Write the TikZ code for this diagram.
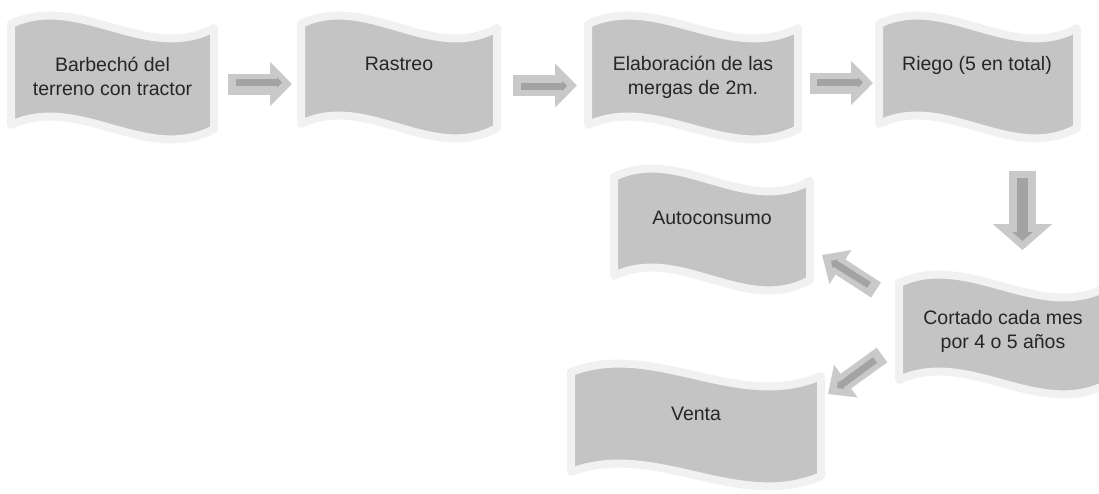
\documentclass[tikz,border=0pt]{standalone}
\usepackage{fontspec}
\setmainfont{Liberation Sans}
\usetikzlibrary{arrows.meta}
\definecolor{shapefill}{RGB}{196,196,196}
\definecolor{shapeedge}{RGB}{241,241,241}
\definecolor{arrowlight}{RGB}{201,201,201}
\definecolor{arrowdark}{RGB}{163,163,163}
\definecolor{textcol}{RGB}{38,38,38}
\tikzset{
  waveshape/.style={fill=shapefill, draw=shapeedge, line width=8pt, line join=round},
  wavetext/.style={anchor=base, align=center, text=textcol, inner sep=0pt,
    font=\fontsize{19.5}{23.3}\selectfont},
  bigarrow/.style={draw=arrowlight, line width=21pt, -{Triangle[width=43pt,length=22pt]}},
  bigarrowdiag/.style={draw=arrowlight, line width=18pt, -{Triangle[width=39pt,length=22pt]}},
  downarrow/.style={draw=arrowlight, line width=27pt, -{Triangle[width=58pt,length=26pt]}},
  smallarrow/.style={draw=arrowdark, line width=7pt, -{Triangle[width=10pt,length=5pt]}},
  smallarrowdown/.style={draw=arrowdark, line width=11pt, -{Triangle[width=20pt,length=9pt]}},
}
% #1 left, #2 top (left end of edge), #3 width, #4 height  (fill coordinates, image pixels)
\newcommand\wavepath[4]{%
  \path[waveshape] ({#1-4},{-(#2-4)})
    .. controls ({#1-4+(#3+8)/3},{-(#2-4-32)}) and ({#1-4+2*(#3+8)/3},{-(#2-4+40)}) .. ({#1+#3+4},{-(#2-4+4)})
    -- ({#1+#3+4},{-(#2+#4+4+4)})
    .. controls ({#1-4+2*(#3+8)/3},{-(#2+#4+4+40)}) and ({#1-4+(#3+8)/3},{-(#2+#4+4-32)}) .. ({#1-4},{-(#2+#4+4)})
    -- cycle;}
\begin{document}
\begin{tikzpicture}[x=1pt,y=1pt]
\useasboundingbox (0,0) rectangle (1099,-493);
% shapes
\wavepath{15}{28}{195}{93}
\wavepath{305}{28}{188}{92}
\wavepath{592}{28}{202}{93}
\wavepath{883}{28}{190}{92}
\wavepath{618}{181}{188}{91}
\wavepath{903}{287}{200}{89}
\wavepath{575}{376}{242}{92}
% texts
\node[wavetext] (b1) at (112.5,-95) {Barbechó del\\terreno con tractor};
\node[wavetext] (b2) at (399,-70) {Rastreo};
\node[wavetext] (b3) at (693,-94) {Elaboración de las\\mergas de 2m.};
\node[wavetext] (b4) at (977,-70) {Riego (5 en total)};
\node[wavetext] (b5) at (712,-224) {Autoconsumo};
\node[wavetext] (b6) at (1003,-348) {Cortado cada mes\\por 4 o 5 años};
\node[wavetext] (b7) at (696,-420) {Venta};
% arrow coordinates
\coordinate (a1s) at (228,-84);   \coordinate (a1e) at (292,-84);
\coordinate (i1s) at (236,-82.5); \coordinate (i1e) at (282,-82.5);
\coordinate (a2s) at (513,-85.5); \coordinate (a2e) at (577,-85.5);
\coordinate (i2s) at (521,-86);   \coordinate (i2e) at (567,-86);
\coordinate (a3s) at (810,-83);   \coordinate (a3e) at (873,-83);
\coordinate (i3s) at (817,-82.5); \coordinate (i3e) at (863,-82.5);
\coordinate (a4s) at (1022.5,-171); \coordinate (a4e) at (1022.5,-250);
\coordinate (i4s) at (1022.5,-178); \coordinate (i4e) at (1022.5,-241);
\coordinate (a5s) at (876,-290);  \coordinate (a5e) at (822,-255);
\coordinate (i5s) at (869,-285);  \coordinate (i5e) at (831,-261);
\coordinate (a6s) at (882,-355);  \coordinate (a6e) at (828,-394);
\coordinate (i6s) at (875,-360);  \coordinate (i6e) at (837,-388);
% arrows
\draw[bigarrow] (a1s) -- (a1e);  \draw[smallarrow] (i1s) -- (i1e);
\draw[bigarrow] (a2s) -- (a2e);  \draw[smallarrow] (i2s) -- (i2e);
\draw[bigarrow] (a3s) -- (a3e);  \draw[smallarrow] (i3s) -- (i3e);
\draw[downarrow] (a4s) -- (a4e); \draw[smallarrowdown] (i4s) -- (i4e);
\draw[bigarrowdiag] (a5s) -- (a5e); \draw[smallarrow] (i5s) -- (i5e);
\draw[bigarrowdiag] (a6s) -- (a6e); \draw[smallarrow] (i6s) -- (i6e);
\end{tikzpicture}
\end{document}
